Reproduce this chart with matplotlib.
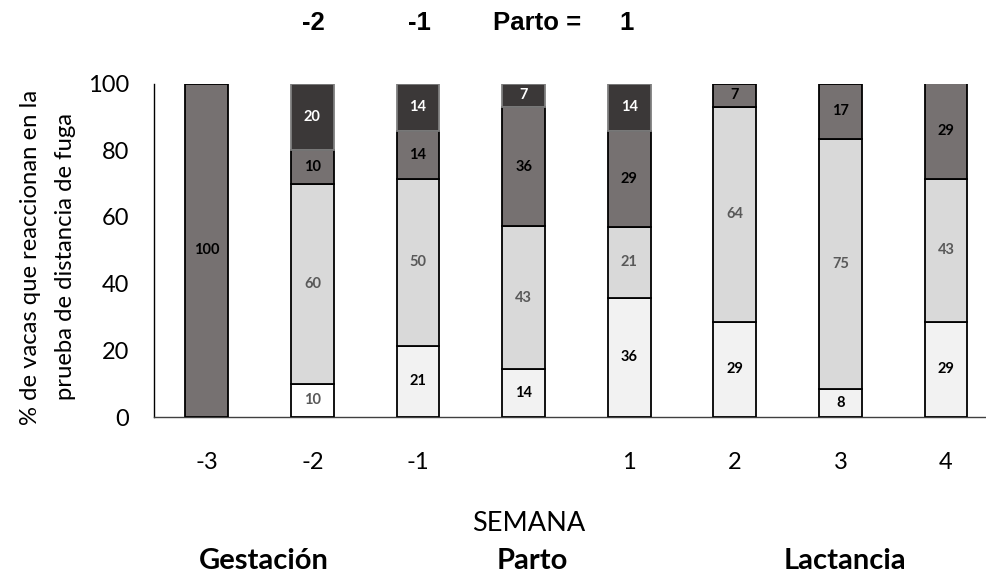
"""
Stacked bars: share of cows per reaction level in the flight-distance test, by week.
"""

import matplotlib

matplotlib.use("Agg")
import matplotlib.pyplot as plt
import numpy as np

semanas = ["-3", "-2", "-1", "", "1", "2", "3", "4"]

# reaction levels, bottom to top (% of cows)
nivel_1 = [0, 10, 21.4, 14.3, 35.7, 28.6, 8.3, 28.6]
nivel_2 = [0, 60, 50, 42.9, 21.4, 64.3, 75, 42.9]
nivel_3 = [100, 10, 14.3, 35.7, 28.6, 7.1, 16.7, 28.6]
nivel_4 = [0, 20, 14.3, 7.1, 14.3, 0, 0, 0]

encabezado = [("-2", 313), ("-1", 419), ("Parto =", 537), ("1", 627)]
fases = [("Gestación", 264), ("Parto", 532), ("Lactancia", 845)]

W, H = 987, 576
plt.rcParams["font.family"] = ["Lato", "DejaVu Sans"]

fig = plt.figure(figsize=(W / 100, H / 100), dpi=100)
ax = fig.add_axes([154 / W, 1 - 417 / H, 1 - 154 / W, (417 - 83.5) / H])

x = np.arange(len(semanas))
width = 0.405
bottom = np.zeros(len(semanas))

series = [
    (nivel_1, ["#f2f2f2", "#ffffff"] + ["#f2f2f2"] * 6, "black",
     ["black", "#595959"] + ["black"] * 6),
    (nivel_2, ["#d9d9d9"] * 8, "black", ["#595959"] * 8),
    (nivel_3, ["#767171"] * 8, "black", ["black"] * 8),
    (nivel_4, ["#3b3838"] * 8, "#7f7f7f", ["white"] * 8),
]

for vals, fills, edge, txt_colors in series:
    vals = np.array(vals, dtype=float)
    for i, v in enumerate(vals):
        if v <= 0:
            continue
        ax.bar(x[i], v, width, bottom=bottom[i], color=fills[i],
               edgecolor=edge, linewidth=1.3, zorder=3)
        ax.text(x[i], bottom[i] + v / 2, f"{v:.0f}", ha="center", va="center",
                fontsize=10.5, fontweight="bold", color=txt_colors[i], zorder=4)
    bottom += vals

ax.set_xlim(-0.5, (W - 207.5) / 105.5)
ax.set_ylim(0, 100)
ax.set_yticks([0, 20, 40, 60, 80, 100])
ax.set_xticks(x)
ax.set_xticklabels(semanas)
ax.tick_params(axis="both", length=0, labelsize=17, colors="black")
ax.tick_params(axis="y", pad=18)
ax.tick_params(axis="x", pad=25)
for side in ["top", "right"]:
    ax.spines[side].set_visible(False)
ax.spines["left"].set_color("black")
ax.spines["bottom"].set_color("#404040")
ax.spines["left"].set_linewidth(1.0)
ax.spines["bottom"].set_linewidth(1.0)

fig.text(48 / W, 1 - 257 / H,
         "% de vacas que reaccionan en la\nprueba de distancia de fuga",
         rotation=90, ha="center", va="center", fontsize=17.2, linespacing=1.8)

for txt, px in encabezado:
    fig.text(px / W, 1 - 23 / H, txt, ha="center", va="center", fontsize=18.5,
             fontweight="bold", family="Liberation Sans")

fig.text(529 / W, 1 - 531 / H, "SEMANA", ha="center", va="baseline",
         fontsize=19.5)
for txt, px in fases:
    fig.text(px / W, 1 - 569 / H, txt, ha="center", va="baseline", fontsize=21,
             fontweight="bold")

fig.savefig("out.png", dpi=100)
plt.close(fig)
